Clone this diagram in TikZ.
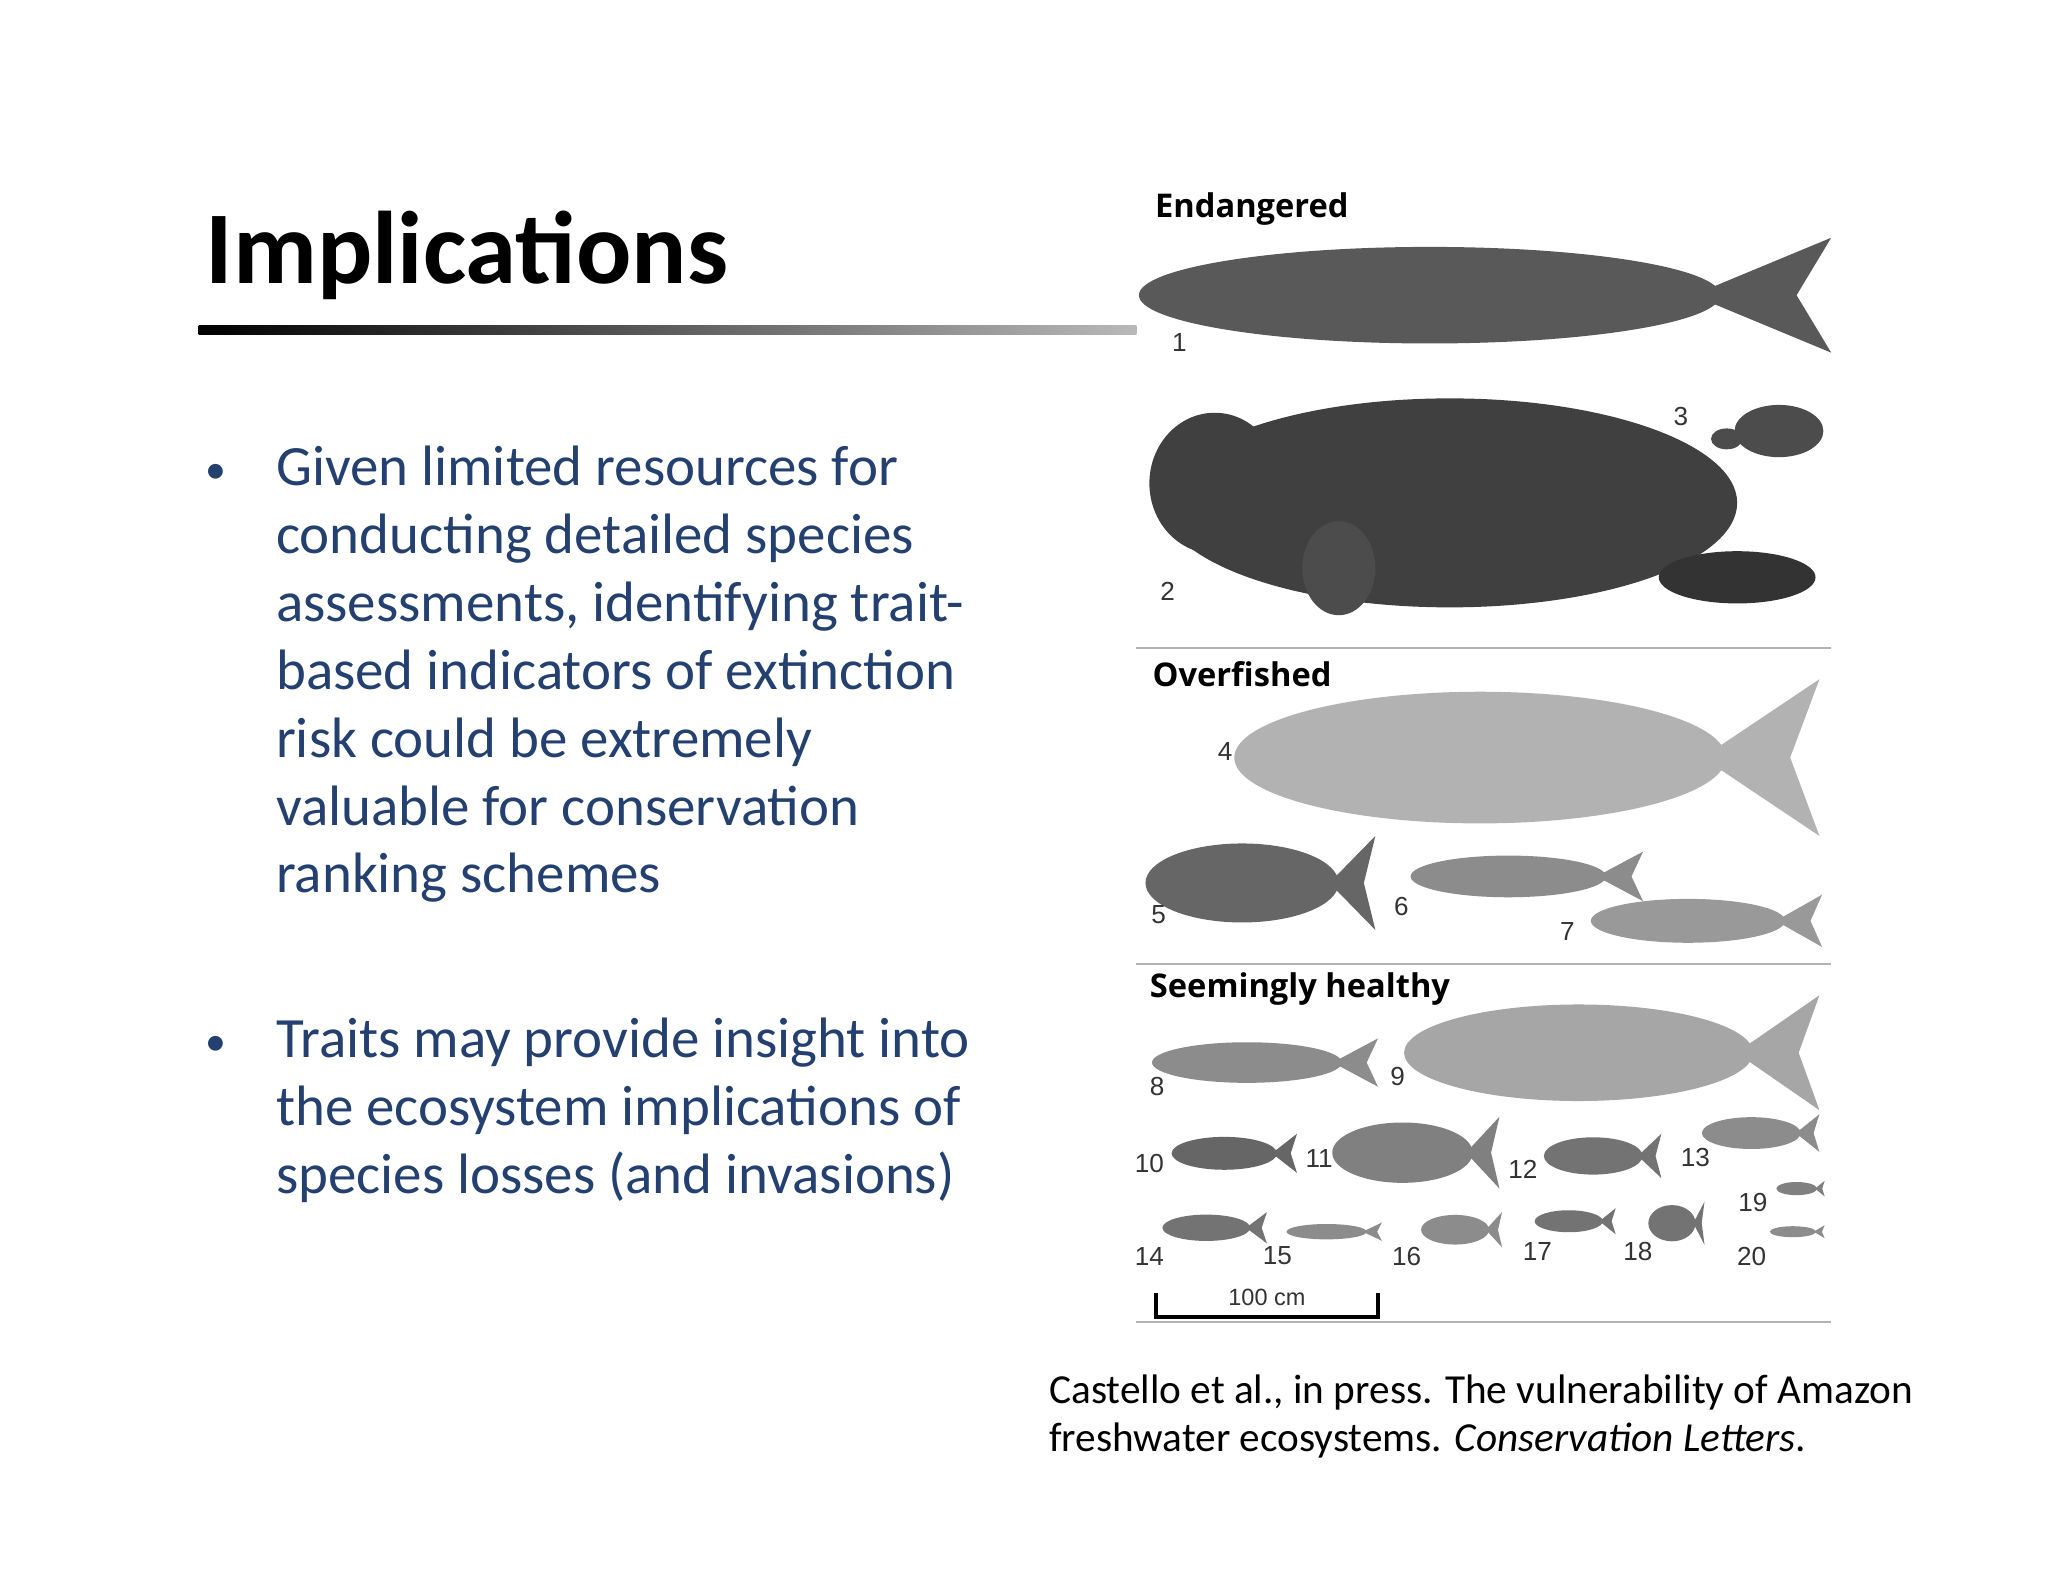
\documentclass[tikz,border=0pt]{standalone}
\usepackage{fontspec}
\setmainfont{Carlito}
\newfontfamily\labfont{Open Sans}
\newfontfamily\numfont{Liberation Sans}
\definecolor{bodyblue}{RGB}{35,64,112}
\newcommand\fishbody[5]{%
 \fill[#5] ({(#1+#2)/2-(#2-#1)*0.08},{(#3+#4)/2}) ellipse [x radius={(#2-#1)*0.21pt}, y radius={(#4-#3)*0.21pt}];
 \fill[#5] ({#2-(#2-#1)*0.2},{(#3+#4)/2}) -- (#2,#3) -- ({#2-(#2-#1)*0.05},{(#3+#4)/2}) -- (#2,#4) -- cycle;}
\begin{document}
\begin{tikzpicture}[x=0.5pt,y=-0.5pt,
 bul/.style={anchor=north west,align=left,font=\fontsize{21.8}{26}\selectfont,text=bodyblue,inner sep=0pt},
 dot/.style={text=bodyblue,font=\fontsize{16}{26}\selectfont,inner sep=0pt,anchor=base},
 num/.style={font=\numfont\fontsize{10}{12}\selectfont,text=black!80,inner sep=0pt},
 sect/.style={font=\labfont\bfseries\fontsize{12.5}{15}\selectfont,anchor=west,inner sep=0pt},
 rule/.style={draw=gray!60,line width=0.7pt}]
\useasboundingbox[fill=white] (0,0) rectangle (1568,1211);
\node[anchor=base west,inner sep=0pt,font=\bfseries\fontsize{39.5}{44}\selectfont] (title) at (157,217) {Implications};
\shade[left color=black,right color=gray!55] (152,249) rectangle (870,256);
\node[dot] (b1) at (165,370) {•};
\node[bul] (t1) at (211,341) {Given limited resources for\\conducting detailed species\\assessments, identifying trait-\\based indicators of extinction\\risk could be extremely\\valuable for conservation\\ranking schemes};
\node[dot] (b2) at (165,808) {•};
\node[bul] (t2) at (211,779) {Traits may provide insight into\\the ecosystem implications of\\species losses (and invasions)};
\node[anchor=north west,align=left,inner sep=0pt,font=\fontsize{15.8}{18.5}\selectfont] (cap) at (803,1052) {Castello et al., in press. The vulnerability of Amazon\\freshwater ecosystems. \textit{Conservation Letters}.};
% figure
\node[sect] (s1) at (884,160) {Endangered};
\node[sect] (s2) at (882,516) {Overfished};
\node[sect] (s3) at (880,757) {Seemingly healthy};
\draw[rule] (870,496) -- (1402,496);
\draw[rule] (870,738) -- (1402,738);
\draw[rule] (870,1012) -- (1402,1012);
% animals
\fishbody{872}{1402}{182}{270}{black!65}
\fill[black!75] (1110,385) ellipse [x radius=110pt, y radius=40pt];
\fill[black!75] (930,370) ellipse [x radius=25pt, y radius=27pt];
\fill[black!80] (1330,442) ellipse [x radius=30pt, y radius=10pt];
\fill[black!70] (1025,435) ellipse [x radius=14pt, y radius=18pt];
\fill[black!70] (1362,330) ellipse [x radius=17pt, y radius=10pt];
\fill[black!70] (1322,336) ellipse [x radius=6pt, y radius=4pt];
\fishbody{945}{1393}{520}{640}{black!30}
\fishbody{877}{1053}{640}{712}{black!60}
\fishbody{1080}{1258}{652}{690}{black!45}
\fishbody{1218}{1395}{685}{725}{black!40}
\fishbody{882}{1055}{795}{832}{black!45}
\fishbody{1075}{1393}{762}{850}{black!35}
\fishbody{897}{993}{868}{898}{black!60}
\fishbody{1020}{1148}{855}{910}{black!50}
\fishbody{1182}{1272}{868}{902}{black!55}
\fishbody{1303}{1393}{853}{882}{black!45}
\fishbody{890}{970}{928}{952}{black!55}
\fishbody{985}{1058}{936}{950}{black!45}
\fishbody{1088}{1150}{928}{955}{black!45}
\fishbody{1175}{1237}{925}{945}{black!55}
\fishbody{1262}{1305}{920}{953}{black!55}
\fishbody{1360}{1397}{904}{916}{black!50}
\fishbody{1355}{1397}{938}{948}{black!45}
% numbers
\node[num] (n1) at (903,262) {1};
\node[num] (n2) at (894,453) {2};
\node[num] (n3) at (1287,319) {3};
\node[num] (n4) at (938,575) {4};
\node[num] (n5) at (887,700) {5};
\node[num] (n6) at (1073,694) {6};
\node[num] (n7) at (1200,713) {7};
\node[num] (n8) at (886,832) {8};
\node[num] (n9) at (1070,824) {9};
\node[num] (n10) at (880,891) {10};
\node[num] (n11) at (1010,887) {11};
\node[num] (n12) at (1166,895) {12};
\node[num] (n13) at (1298,886) {13};
\node[num] (n14) at (880,962) {14};
\node[num] (n15) at (978,961) {15};
\node[num] (n16) at (1077,962) {16};
\node[num] (n17) at (1177,958) {17};
\node[num] (n18) at (1254,958) {18};
\node[num] (n19) at (1342,921) {19};
\node[num] (n20) at (1341,962) {20};
% scale bar
\coordinate (sbl) at (885,990);
\coordinate (sbr) at (1055,990);
\draw[line width=1.5pt] (sbl) -- ++(0,18) -- ++(170,0) -- (sbr);
\node[num,font=\numfont\fontsize{9}{11}\selectfont] (sbt) at (970,993) {100 cm};
\end{tikzpicture}
\end{document}
